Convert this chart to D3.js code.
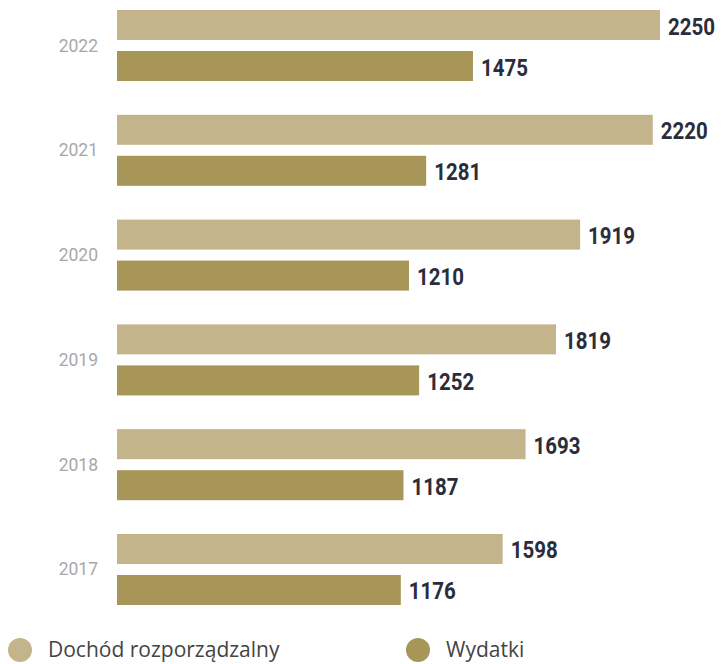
<!DOCTYPE html>
<html>
<head>
<meta charset="utf-8">
<script src="https://cdn.jsdelivr.net/npm/d3@7"></script>
<style>
  body { margin: 0; background: #fff; }
  svg { display: block; }
</style>
</head>
<body>
<script>
var years = ["2022", "2021", "2020", "2019", "2018", "2017"];
var dochod = [2250, 2220, 1919, 1819, 1693, 1598];
var wydatki = [1475, 1281, 1210, 1252, 1187, 1176];
var seriesNames = ["Dochód rozporządzalny", "Wydatki"];
var seriesColors = ["#c4b48c", "#a89659"];

var width = 723, height = 664;

var svg = d3.select("body").append("svg")
    .attr("width", width)
    .attr("height", height);

var x = d3.scaleLinear()
    .domain([0, 2250])
    .range([117, 660]);

var y = d3.scaleBand()
    .domain(years)
    .range([10, 605])
    .paddingInner(0.3225);

var inner = d3.scaleBand()
    .domain([0, 1])
    .range([0, y.bandwidth()])
    .paddingInner(11 / 41);

var rows = years.map(function(yr, i){
    return { year: yr, values: [dochod[i], wydatki[i]] };
});

var group = svg.selectAll("g.year")
    .data(rows)
    .enter().append("g")
    .attr("class", "year")
    .attr("transform", function(d){ return "translate(0," + y(d.year) + ")"; });

group.append("text")
    .attr("x", 98)
    .attr("y", y.bandwidth() / 2)
    .attr("text-anchor", "end")
    .attr("dominant-baseline", "central")
    .style("font-family", "Roboto, 'Liberation Sans', sans-serif")
    .style("font-size", "17.5px")
    .style("fill", "#a8a8a8")
    .text(function(d){ return d.year; });

var bars = group.selectAll("g.bar")
    .data(function(d){ return d.values.map(function(v, j){ return { v: v, s: j }; }); })
    .enter().append("g")
    .attr("class", "bar");

bars.append("rect")
    .attr("x", x(0))
    .attr("y", function(d){ return inner(d.s); })
    .attr("width", function(d){ return x(d.v) - x(0); })
    .attr("height", inner.bandwidth())
    .attr("fill", function(d){ return seriesColors[d.s]; });

// narrow bold numbers: squeeze Roboto bold to the condensed width
bars.append("text")
    .attr("x", function(d){ return x(d.v) + 8; })
    .attr("y", function(d){ return inner(d.s) + inner.bandwidth() / 2 + 1; })
    .attr("dominant-baseline", "central")
    .attr("textLength", 47)
    .attr("lengthAdjust", "spacingAndGlyphs")
    .style("font-family", "Roboto, 'Liberation Sans', sans-serif")
    .style("font-weight", "bold")
    .style("font-size", "24.5px")
    .style("fill", "#2b2d3b")
    .text(function(d){ return d.v; });

// legend
var legendX = [20, 418];
var legend = svg.selectAll("g.legend")
    .data(seriesNames)
    .enter().append("g")
    .attr("class", "legend")
    .attr("transform", function(d, i){ return "translate(" + legendX[i] + ",650)"; });

legend.append("circle")
    .attr("r", 12)
    .attr("fill", function(d, i){ return seriesColors[i]; });

legend.append("text")
    .attr("x", 28)
    .attr("y", 7)
    .style("font-family", "'Open Sans', 'Noto Sans', sans-serif")
    .style("font-size", "21px")
    .style("fill", "#444")
    .text(function(d){ return d; });
</script>
</body>
</html>
